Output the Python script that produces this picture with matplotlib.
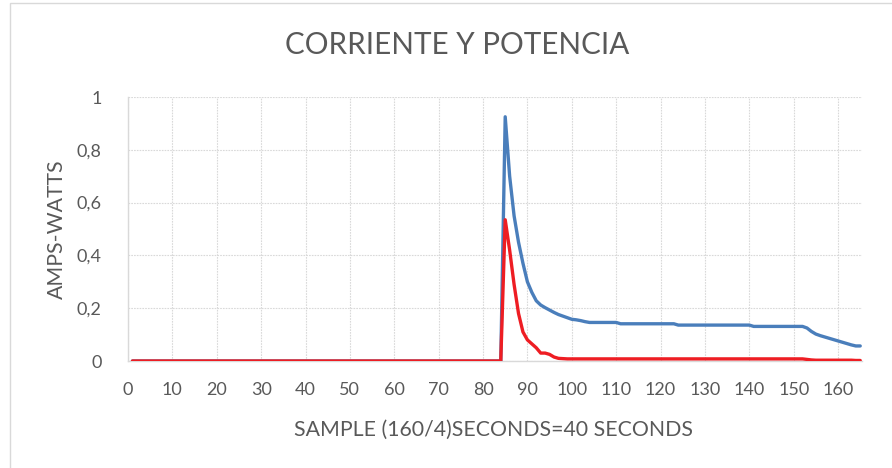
import matplotlib
matplotlib.use("Agg")
import matplotlib.pyplot as plt
from matplotlib.patches import Rectangle

plt.rcParams['font.family'] = ['Lato', 'DejaVu Sans']

TITLE = "CORRIENTE Y POTENCIA"
X_LABEL = "SAMPLE (160/4)SECONDS=40 SECONDS"
Y_LABEL = "AMPS-WATTS"

# sample index 1..165
samples = list(range(1, 166))

# current (amps), samples 1..165
corriente = [
    0, 0, 0, 0, 0, 0, 0, 0, 0, 0, 0, 0, 0, 0, 0, 0, 0, 0, 0, 0,
    0, 0, 0, 0, 0, 0, 0, 0, 0, 0, 0, 0, 0, 0, 0, 0, 0, 0, 0, 0,
    0, 0, 0, 0, 0, 0, 0, 0, 0, 0, 0, 0, 0, 0, 0, 0, 0, 0, 0, 0,
    0, 0, 0, 0, 0, 0, 0, 0, 0, 0, 0, 0, 0, 0, 0, 0, 0, 0, 0, 0,
    0, 0, 0, 0,
    0.925, 0.70, 0.55, 0.45, 0.37, 0.30, 0.26, 0.228, 0.212, 0.202,
    0.193, 0.184, 0.176, 0.170, 0.164, 0.158, 0.156, 0.153, 0.149, 0.146,
    0.146, 0.146, 0.146, 0.146, 0.146, 0.146,
    0.141, 0.141, 0.141, 0.141, 0.141, 0.141, 0.141, 0.141, 0.141, 0.141,
    0.141, 0.141, 0.141,
    0.136, 0.136, 0.136, 0.136, 0.136, 0.136, 0.136, 0.136, 0.136, 0.136,
    0.136, 0.136, 0.136, 0.136, 0.136, 0.136, 0.136,
    0.131, 0.131, 0.131, 0.131, 0.131, 0.131, 0.131, 0.131, 0.131, 0.131,
    0.131, 0.131,
    0.125, 0.112, 0.102, 0.096, 0.091, 0.086, 0.081, 0.076, 0.071, 0.066,
    0.061, 0.057, 0.057,
]

# power (watts), samples 1..165
potencia = [
    0, 0, 0, 0, 0, 0, 0, 0, 0, 0, 0, 0, 0, 0, 0, 0, 0, 0, 0, 0,
    0, 0, 0, 0, 0, 0, 0, 0, 0, 0, 0, 0, 0, 0, 0, 0, 0, 0, 0, 0,
    0, 0, 0, 0, 0, 0, 0, 0, 0, 0, 0, 0, 0, 0, 0, 0, 0, 0, 0, 0,
    0, 0, 0, 0, 0, 0, 0, 0, 0, 0, 0, 0, 0, 0, 0, 0, 0, 0, 0, 0,
    0, 0, 0, 0,
    0.535, 0.42, 0.29, 0.18, 0.11, 0.08, 0.065, 0.05, 0.03, 0.03,
    0.025, 0.015, 0.01, 0.009, 0.008, 0.008, 0.008, 0.008, 0.008, 0.008,
    0.008, 0.008, 0.008, 0.008, 0.008, 0.008, 0.008, 0.008, 0.008, 0.008,
    0.008, 0.008, 0.008, 0.008, 0.008, 0.008, 0.008, 0.008, 0.008, 0.008,
    0.008, 0.008, 0.008, 0.008, 0.008, 0.008, 0.008, 0.008, 0.008, 0.008,
    0.008, 0.008, 0.008, 0.008, 0.008, 0.008, 0.008, 0.008, 0.008, 0.008,
    0.008, 0.008, 0.008, 0.008, 0.008, 0.008, 0.008, 0.008,
    0.006, 0.004, 0.003, 0.003, 0.003, 0.003, 0.003, 0.003, 0.003, 0.003,
    0.003, 0.002, 0.002,
]

x_ticks = [0, 10, 20, 30, 40, 50, 60, 70, 80, 90, 100, 110, 120, 130, 140, 150, 160]
y_ticks = [0, 0.2, 0.4, 0.6, 0.8, 1.0]
y_tick_labels = ["0", "0,2", "0,4", "0,6", "0,8", "1"]

TEXT = "#595959"
GRID = "#d9d9d9"

W, H = 892, 468
fig = plt.figure(figsize=(W / 100, H / 100), dpi=100)
fig.patch.set_facecolor("white")

# chart-area border
fig.patches.append(Rectangle((10 / W, -0.05), 1.2, 1 - 3 / H + 0.05,
                             transform=fig.transFigure, fill=False,
                             edgecolor="#d9d9d9", linewidth=1.0))

ax = fig.add_axes([128 / W, 1 - 361 / H, (862 - 128) / W, (361 - 97) / H])
ax.set_xlim(0, 165.4)
ax.set_ylim(0, 1)

ax.plot(samples, corriente, color="#4a7ebb", linewidth=2.4,
        solid_joinstyle="round", solid_capstyle="round", zorder=3)
ax.plot(samples, potencia, color="#ee1d23", linewidth=2.4,
        solid_joinstyle="round", solid_capstyle="round", zorder=4)

ax.set_xticks(x_ticks)
ax.set_yticks(y_ticks)
ax.set_yticklabels(y_tick_labels)
ax.tick_params(axis="both", length=0, labelsize=13, labelcolor=TEXT)
ax.tick_params(axis="x", pad=15)
ax.tick_params(axis="y", pad=19)

ax.grid(True, color=GRID, linestyle=(0, (1.5, 1.0)), linewidth=0.8)
ax.set_axisbelow(True)
for side in ("top", "right"):
    ax.spines[side].set_visible(False)
ax.spines["bottom"].set_color(GRID)
ax.spines["left"].set_color(GRID)
ax.spines["bottom"].set_linewidth(1.0)
ax.spines["left"].set_linewidth(1.0)

fig.text(457 / W, 1 - 45 / H, TITLE, ha="center", va="center",
         fontsize=21.3, color=TEXT)
fig.text(493 / W, 1 - 430 / H, X_LABEL, ha="center", va="center",
         fontsize=15.3, color=TEXT)
fig.text(57 / W, 1 - 229 / H, Y_LABEL, ha="center", va="center",
         rotation=90, fontsize=15.3, color=TEXT)

fig.savefig("out.png", dpi=100)
